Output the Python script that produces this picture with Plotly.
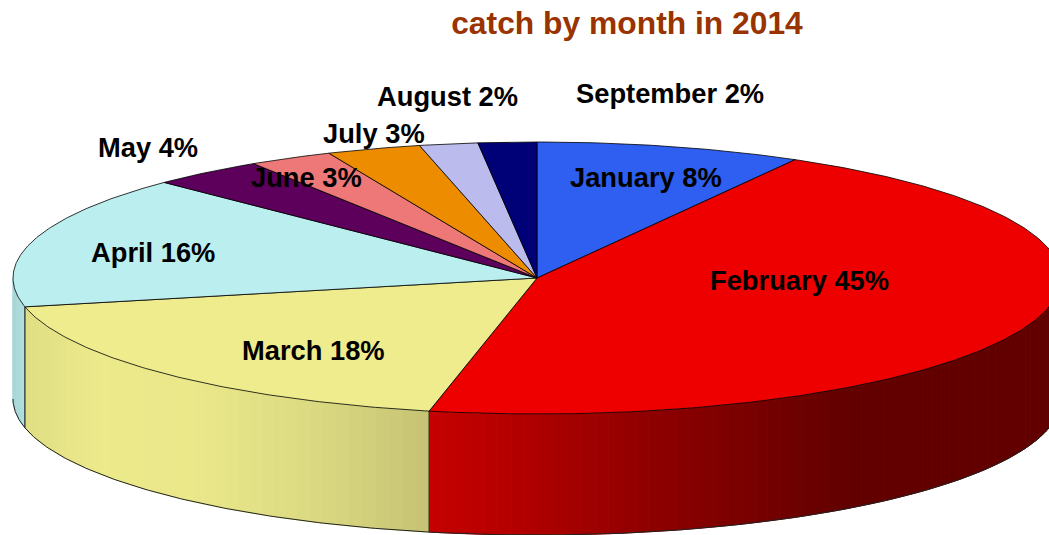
import numpy as np
import plotly.graph_objects as go

months = ["January", "February", "March", "April", "May", "June", "July", "August", "September"]
catch_share = [8.2, 45.1, 18.3, 15.8, 3.5, 2.6, 2.9, 1.8, 1.8]
percent_labels = ["8%", "45%", "18%", "16%", "4%", "3%", "3%", "2%", "2%"]
slice_colors = ["#2E5FF0", "#EE0000", "#EEEC8C", "#BBEEEE", "#5C005C", "#EE7777", "#EE8C00", "#BBBBEE", "#000077"]

W, H = 1049, 535
CX, CY, RX, RY, DEPTH = 537.0, 278.0, 524.0, 136.0, 121.0
LABEL_XY = [(646, 177), (799, 280), (313, 350), (153, 252), (148, 147),
            (306, 177), (374, 133), (447, 96), (670, 93)]
FONT = "Liberation Sans, Arial, sans-serif"
SHADE_X = [13, 25, 100, 200, 300, 428, 500, 650, 850, 1100]
SHADE_F = [0.90, 0.94, 0.99, 0.98, 0.93, 0.83, 0.77, 0.60, 0.41, 0.41]


def px(t):
    return CX + RX * np.sin(t)


def py(t):
    return CY - RY * np.cos(t)


def shaded(hex_color, x):
    f = float(np.interp(x, SHADE_X, SHADE_F))
    rgb = [int(hex_color[i:i + 2], 16) for i in (1, 3, 5)]
    return "rgb({},{},{})".format(*[round(c * f) for c in rgb])


edges = 2 * np.pi * np.concatenate([[0], np.cumsum(catch_share)]) / sum(catch_share)
fig = go.Figure()


def add(xs, ys, fill=None, line="#000000", width=1.0):
    fig.add_trace(go.Scatter(
        x=list(xs), y=list(ys), mode="lines",
        fill="toself" if fill else None, fillcolor=fill,
        line=dict(color=line, width=width),
        hoverinfo="skip", showlegend=False,
    ))


# Side wall: front half of the rim only
front_a, front_b = np.pi / 2, 3 * np.pi / 2
for i, color in enumerate(slice_colors):
    a, b = max(edges[i], front_a), min(edges[i + 1], front_b)
    if b <= a:
        continue
    n = max(2, int((b - a) / np.radians(1.5)))
    ts = np.linspace(a, b, n + 1)
    for t0, t1 in zip(ts[:-1], ts[1:]):
        xs = [px(t0), px(t1), px(t1), px(t0), px(t0)]
        ys = [py(t0), py(t1), py(t1) + DEPTH, py(t0) + DEPTH, py(t0)]
        c = shaded(color, (xs[0] + xs[1]) / 2)
        add(xs, ys, fill=c, line=c, width=1)
    # outline of this wall piece
    arc = np.linspace(a, b, 120)
    add(px(arc), py(arc) + DEPTH, line="#222222", width=1)
    if a > front_a:
        add([px(a), px(a)], [py(a), py(a) + DEPTH], line="#000000", width=1)

# Top face
for i, color in enumerate(slice_colors):
    arc = np.linspace(edges[i], edges[i + 1], max(8, int((edges[i + 1] - edges[i]) / np.radians(0.5))))
    xs = np.concatenate([[CX], px(arc), [CX]])
    ys = np.concatenate([[CY], py(arc), [CY]])
    add(xs, ys, fill=color, line="#000000", width=0.8)

annotations = [
    dict(x=xy[0], y=xy[1], text=f"<b>{m} {p}</b>", showarrow=False, xanchor="center", yanchor="middle",
         font=dict(family=FONT, size=27.3, color="#000000"))
    for m, p, xy in zip(months, percent_labels, LABEL_XY)
]

fig.update_layout(
    width=W, height=H, autosize=False,
    margin=dict(l=0, r=0, t=0, b=0),
    paper_bgcolor="#FFFFFF", plot_bgcolor="#FFFFFF",
    title=dict(text="<b>catch by month in 2014</b>", x=627 / W, y=1 - 23 / H,
               xanchor="center", yanchor="middle", xref="paper", yref="paper",
               font=dict(family=FONT, size=31.8, color="#993300")),
    xaxis=dict(range=[0, W], visible=False, fixedrange=True),
    yaxis=dict(range=[H, 0], visible=False, fixedrange=True),
    annotations=annotations,
)
fig.write_html("out.html", config={"displayModeBar": False},
               post_script="document.body.style.margin='0';document.documentElement.style.overflow='hidden';")
